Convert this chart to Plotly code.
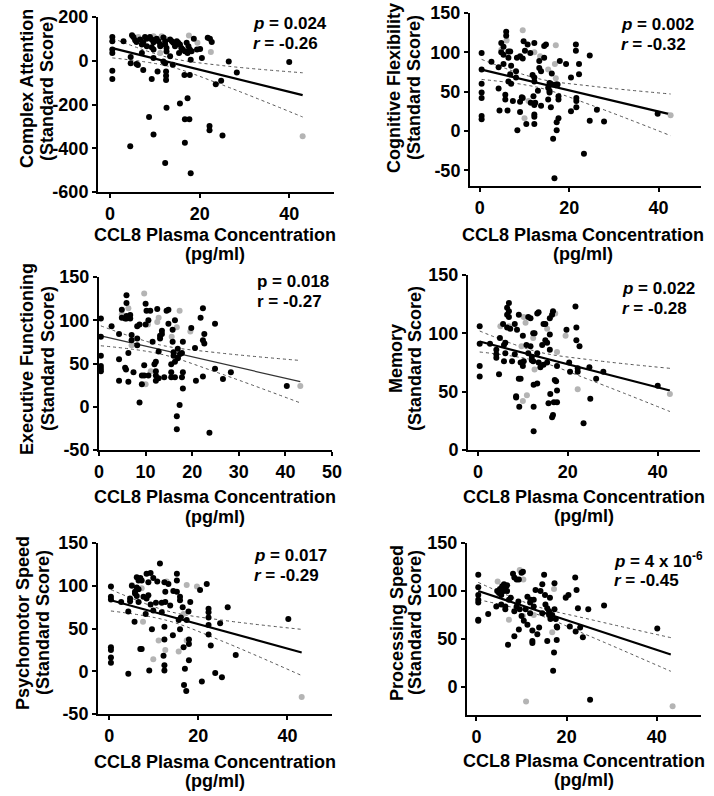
import plotly.graph_objects as go

# ---------------- data ----------------
# Complex Attention
ca_black = [(0.5,108),(0.5,89),(0.5,51),(0.5,35),(0.5,-46),(0.5,-83),(3.0,89),(4.9,117),(5.2,108),(5.6,94),(5.9,86),
 (6.7,97),(7.1,74),(7.4,85),(7.8,109),(8.2,100),(8.2,66),(8.9,109),(9.3,97),(9.7,85),(9.3,62),(9.7,51),
 (10.4,100),(10.8,89),(11.2,74),(11.2,66),(11.9,106),(12.3,89),(12.3,74),(12.6,58),(12.6,42),
 (13.4,97),(13.8,89),(14.1,82),(14.5,66),(14.9,89),(15.2,82),(15.6,74),(15.9,58),(16.2,51),(16.7,43),(15.4,35),
 (17.1,82),(17.5,66),(17.8,51),(18.2,43),(17.3,35),(18.7,100),(19.4,51),(20.1,54),(20.5,12),
 (21.8,105),(22.3,100),(22.7,86),(4.6,17),(4.6,-11),(5.9,-15),(6.2,-20),(7.4,-42),(7.1,35),
 (9.3,-83),(9.7,12),(10.6,-49),(11.9,-3),(12.3,-11),(12.5,-49),(12.5,-69),(12.5,-88),(12.6,-215),
 (13.4,20),(14.0,-18),(15.6,-195),(16.6,-65),(16.7,-268),(17.3,-172),(17.7,-268),(17.8,-65),(18.0,5),
 (16.7,-375),(18.0,-514),(12.3,-468),(8.7,-257),(9.7,-337),(4.5,-391),
 (22.2,-298),(22.2,-318),(25.1,-342),(24.8,-92),(23.6,-108),(26.5,-3),(28.3,-54),(40.0,-6)]
ca_gray = [(6.3,109),(9.7,112),(11.5,112),(12.3,100),(17.6,115),(19.5,82),(22.5,40),(11.2,35),(14.0,-20),(43.0,-345)]
ca_fit_x = [0.5, 13, 25, 43]
ca_fit_y = [58, -5, -66, -157]
ca_up = [103, 15, -22, -55]
ca_lo = [13, -25, -110, -257]

# Cognitive Flexibility
cf_black = [(0.4,99),(0.4,78),(0.4,60),(0.4,49),(0.4,42),(0.4,19),(0.4,15),
 (2.6,88),(4.2,81),(4.2,54),(4.4,26),(4.8,112),(4.8,100),(5.3,107),(5.3,97),(5.3,85),
 (5.7,46),(5.7,40),(5.9,126),(5.9,121),(6.2,26),(6.4,93),(6.4,101),(6.4,63),
 (6.8,101),(6.8,72),(7.0,83),(7.0,60),(7.4,38),(8.1,76),(8.1,68),(8.3,93),(8.4,1),
 (9.0,95),(9.0,37),(9.0,24),(9.4,43),(9.6,92),(9.6,42),(9.8,114),(10.1,102),(10.4,9),
 (10.7,110),(11.3,99),(11.4,36),(11.8,71),(12.0,44),
 (12.2,112),(12.2,68),(12.2,63),(12.2,33),(12.2,21),(12.2,18),(12.2,9),(12.4,36),
 (13.0,51),(13.3,89),(13.3,80),(13.7,76),(13.7,32),(14.4,108),(14.4,93),(14.8,110),
 (15.3,55),(15.3,40),(15.6,61),(15.6,51),(15.6,49),(15.9,30),(16.1,73),(16.1,59),
 (16.4,-10),(16.7,-60),(17.0,59),(17.0,58),(17.2,1),(17.2,11),(17.4,59),(17.6,44),(17.6,40),(17.6,16),
 (17.9,89),(19.3,85),(20.4,68),(20.4,25),(21.5,102),(21.5,110),(21.6,42),(21.6,38),(21.6,30),
 (22.2,85),(22.2,72),(23.3,-29),(24.6,13),(24.6,96),(26.2,27),(27.8,12),(39.8,22)]
cf_gray = [(9.6,128),(6.0,115),(10.0,16),(10.9,38),(12.2,100),(17.0,109),(16.8,85),(15.3,78),(17.0,67),(42.7,20),(4.8,103),(13.5,95)]
cf_fit_x = [0.4, 13, 25, 42.7]
cf_fit_y = [78, 61, 45, 21]
cf_up = [91, 66.6, 57, 47]
cf_lo = [65.5, 55.4, 32.7, -6]

# Executive Functioning
ef_black = [(0.4,102),(0.4,81),(0.4,59),(0.4,47),(0.4,44),(0.4,41),
 (2.7,93),(4.3,84),(4.3,55),(4.3,30),(4.9,112),(4.9,103),(5.6,102),(5.6,45),(5.8,43),
 (5.9,129),(5.9,120),(5.9,105),(5.9,102),(6.3,62),(6.3,29),(6.7,106),(6.7,102),
 (7.0,83),(7.0,77),(7.4,40),(8.2,93),(8.2,79),(8.2,71),(8.7,5),(8.7,95),
 (9.2,26),(9.2,36),(9.7,48),(9.7,36),(10.0,119),(10.0,95),(10.2,111),(10.6,100),(10.6,36),
 (11.0,111),(11.5,75),(11.9,49),(12.2,30),(12.2,36),(12.2,41),(12.2,52),(12.5,113),
 (12.8,64),(12.8,33),(13.1,82),(13.1,79),(13.5,88),(13.5,84),(14.0,34),(14.5,111),(14.9,112),(14.9,96),
 (15.5,49),(15.5,40),(15.5,34),(15.8,89),(15.8,75),(16.0,63),(16.0,59),(16.3,100),(16.3,52),(16.3,34),
 (16.7,-11),(16.7,-26),(16.9,67),(16.9,57),(16.9,56),(17.3,2),(17.4,61),(17.8,62),(17.8,34),
 (18.0,75),(18.0,40),(18.0,21),(19.8,91),(20.6,68),(20.8,30),(21.8,103),(22.3,114),(22.3,77),(22.3,35),
 (22.6,84),(22.6,73),(23.7,-30),(24.9,44),(24.9,96),(26.6,32),(28.3,40),(40.3,24)]
ef_gray = [(9.7,131),(6.3,114),(4.9,107),(12.8,103),(10.5,95),(12.5,98),(17.3,111),(16.7,92),(15.6,81),(19.6,87),(7.0,71),(10.0,26),(11.1,41),(43.2,24)]
ef_fit_x = [0.4, 13, 25, 43.2]
ef_fit_y = [82, 66.4, 51.5, 29]
ef_up = [93.5, 71.6, 62.7, 53.5]
ef_lo = [70.5, 61.2, 40.3, 4.5]

# Memory
me_black = [(0.4,106),(0.4,91),(0.4,72),(0.4,63),(2.7,91),(4.1,86),(4.1,82),(4.1,79),(4.7,65),(4.9,96),
 (5.6,108),(5.8,90),(5.8,76),(6.1,92),(6.1,83),(6.5,122),(6.5,116),(6.5,105),(6.9,126),(6.9,119),(6.9,114),
 (7.2,104),(7.6,76),(8.2,108),(8.2,82),(8.5,46),(8.5,45),(8.7,103),(9.1,116),(9.1,61),(9.2,37),
 (9.5,75),(9.5,61),(10.0,98),(10.0,72),(10.2,76),(10.8,90),(11.2,114),(11.2,83),(11.7,113),(11.7,89),
 (12.0,80),(12.0,77),(12.3,100),(12.3,76),(12.4,56),(12.4,37),(12.4,16),(12.6,100),
 (13.2,117),(13.2,83),(13.2,57),(13.5,118),(13.5,75),(13.9,71),(14.3,90),(14.6,108),(14.6,73),
 (15.0,108),(15.0,94),(15.4,92),(15.4,75),(15.7,40),(16.0,113),(16.0,99),(16.0,86),(16.1,48),
 (16.5,116),(16.5,28),(16.7,119),(16.7,30),(16.9,41),(17.1,60),(17.4,59),(17.6,72),(17.6,51),(17.6,41),
 (19.7,103),(20.3,75),(20.5,67),(21.7,123),(21.9,105),(21.9,94),(22.2,70),(22.2,67),(22.6,89),
 (23.5,23),(24.8,71),(25.0,44),(26.3,61),(27.9,67),(40.0,55)]
me_gray = [(6.9,106),(5.0,106),(10.2,114),(10.6,109),(10.9,47),(10.0,42),(12.3,96),(12.6,69),(17.2,117),(15.4,104),(19.5,98),(17.6,84),(22.2,52),(42.7,48),(9.7,89)]
me_fit_x = [0.4, 13, 25, 42.7]
me_fit_y = [93, 80.5, 68.6, 51]
me_up = [102, 84.5, 77.3, 70]
me_lo = [84, 76.5, 59.9, 33]

# Psychomotor Speed
ps_black = [(0.4,99),(0.4,87),(0.4,84),(0.4,28),(0.4,25),(0.4,16),(0.4,10),(2.7,81),(4.3,70),(4.3,-3),
 (4.7,85),(4.7,82),(5.1,100),(5.7,58),(5.8,93),(5.8,91),(6.2,110),(6.2,98),(6.2,88),
 (6.6,106),(6.6,96),(6.6,81),(7.0,109),(7.0,26),(7.3,106),(7.3,26),(7.7,87),(8.2,67),
 (8.4,114),(8.4,85),(8.8,104),(8.8,89),(9.0,1),(9.3,115),(9.3,78),(9.6,49),(9.9,109),(9.9,71),
 (10.5,80),(10.8,105),(11.4,126),(11.8,80),(11.8,69),(12.2,18),(12.4,104),(12.4,52),(12.4,37),(12.4,7),(12.4,1),
 (12.6,93),(12.6,81),(13.3,102),(13.7,77),(14.3,42),(14.4,94),(15.2,114),(15.2,106),(15.2,93),(15.6,60),
 (15.9,87),(15.9,83),(15.9,49),(16.1,63),(16.5,75),(16.7,28),(16.8,-16),(17.0,3),(17.3,-23),(17.4,60),
 (17.8,70),(17.9,37),(17.9,32),(17.9,13),(18.2,81),(20.4,95),(20.8,-12),(21.9,102),
 (22.3,73),(22.3,69),(22.3,63),(22.3,54),(22.3,43),(22.8,30),(23.8,-2),(24.9,56),(25.3,-7),(26.6,75),(28.4,19),(40.2,61)]
ps_gray = [(5.1,101),(7.3,97),(7.6,58),(9.9,14),(11.1,36),(12.6,25),(12.9,105),(17.4,101),(19.7,99),(15.6,23),(17.4,36),(16.7,67),(43.2,-30)]
ps_fit_x = [0.4, 13, 25, 43.2]
ps_fit_y = [83, 65, 48, 22]
ps_up = [95.5, 70.6, 60, 49]
ps_lo = [70.5, 59.4, 36, -5]

# Processing Speed
pr_black = [(0.4,117),(0.4,104),(0.4,96),(0.4,91),(0.4,88),(0.4,70),(0.4,69),(2.6,76),(4.4,84),(4.6,100),(5.0,98),
 (5.2,102),(5.5,96),(5.5,86),(5.7,105),(6.1,107),(6.1,100),(6.4,103),(6.4,84),(6.4,81),(6.8,106),(6.8,100),
 (7.0,44),(7.2,91),(7.6,93),(8.1,118),(8.4,114),(8.4,79),(8.4,53),(8.9,112),(8.9,84),(9.3,89),(9.4,112),(9.4,60),
 (9.6,81),(10.0,119),(10.0,74),(10.3,120),(10.5,69),(10.9,81),(11.3,94),(11.3,65),(11.9,88),(11.9,77),(12.0,91),
 (12.4,59),(12.4,48),(12.4,46),(12.7,91),(12.7,84),(13.1,101),(13.5,55),(13.9,62),(14.2,100),(14.6,107),(14.6,77),
 (15.0,117),(15.2,96),(15.3,86),(15.7,48),(15.7,82),(16.1,79),(16.1,75),(16.3,93),(16.4,71),(16.8,75),(17.0,17),
 (17.2,36),(17.3,108),(17.3,81),(17.6,71),(17.8,63),(17.8,49),(17.9,62),(19.8,93),(20.4,96),(20.7,63),
 (21.9,114),(22.0,58),(22.2,101),(22.5,82),(23.0,62),(23.6,52),(24.8,81),(25.2,-13),(28.3,85),(40.1,61)]
pr_gray = [(4.7,110),(9.6,122),(10.4,112),(7.2,70),(11.0,-15),(17.2,102),(16.8,57),(19.8,94),(43.5,-20),(10.3,74),(12.7,75)]
pr_fit_x = [0.4, 13, 25, 43.1]
pr_fit_y = [100, 80.5, 62, 34]
pr_up = [109, 84.5, 70.7, 51.5]
pr_lo = [91, 76.5, 53.3, 16.5]

titles = ["Complex Attention", "Cognitive Flexibility", "Executive Functioning",
          "Memory", "Psychomotor Speed", "Processing Speed"]
p_texts = ["<i>p</i> = 0.024", "<i>p</i> = 0.002", "p = 0.018", "<i>p</i> = 0.022", "<i>p</i> = 0.017",
           "<i>p</i> = 4 x 10<sup>-6</sup>"]
r_texts = ["<i>r</i> = -0.26", "<i>r</i> = -0.32", "r = -0.27", "<i>r</i> = -0.28", "<i>r</i> = -0.29", "<i>r</i> = -0.45"]
x_title = "CCL8 Plasma Concentration"
x_unit = "(pg/ml)"
y_unit = "(Standard Score)"
xticks = [[0, 20, 40], [0, 20, 40], [0, 10, 20, 30, 40, 50], [0, 20, 40], [0, 20, 40], [0, 20, 40]]
yticks = [[-600, -400, -200, 0, 200], [-50, 0, 50, 100, 150], [-50, 0, 50, 100, 150],
          [0, 50, 100, 150], [-50, 0, 50, 100, 150], [0, 50, 100, 150]]

panels = [
    dict(black=ca_black, gray=ca_gray, fx=ca_fit_x, fy=ca_fit_y, up=ca_up, lo=ca_lo),
    dict(black=cf_black, gray=cf_gray, fx=cf_fit_x, fy=cf_fit_y, up=cf_up, lo=cf_lo),
    dict(black=ef_black, gray=ef_gray, fx=ef_fit_x, fy=ef_fit_y, up=ef_up, lo=ef_lo),
    dict(black=me_black, gray=me_gray, fx=me_fit_x, fy=me_fit_y, up=me_up, lo=me_lo),
    dict(black=ps_black, gray=ps_gray, fx=ps_fit_x, fy=ps_fit_y, up=ps_up, lo=ps_lo),
    dict(black=pr_black, gray=pr_gray, fx=pr_fit_x, fy=pr_fit_y, up=pr_up, lo=pr_lo),
]

# ---------------- layout geometry ----------------
W, H = 714, 796
# pixel boxes: (left, right, top, bottom)
boxes = [(98, 334, 17, 192), (470, 701, 13, 186), (99, 332, 277, 450),
         (468, 700, 275, 450), (98, 332, 543, 714), (467, 701, 543, 715)]
xranges = [[-2.7, 50], [-2.2, 49.5], [0, 50], [-2.2, 49.4], [-2.5, 50], [-2.1, 49.8]]
yranges = [[-600, 200], [-70, 150], [-50, 150], [0, 150], [-50, 150], [-29, 150]]
ytitle_x = [(27, 47), (394, 414), (27, 48), (396, 415), (23, 43), (397, 415)]
ytitle_y = [89, 88, 359, 359, 623, 623]
xtitle_x = [215, 583, 215, 584, 215, 584]
xtitle_y = [(235, 254), (235, 254), (497, 517), (497, 516), (762, 781), (761, 780)]
stat_pos = [(251, 23), (619, 25), (255, 282), (620, 288), (252, 555), (612, 560)]

FONT = "Liberation Sans, Arial, sans-serif"
fig = go.Figure()
annotations = []
layout = dict(width=W, height=H, margin=dict(l=0, r=0, t=0, b=0, pad=0, autoexpand=False),
              paper_bgcolor="white", plot_bgcolor="white", showlegend=False,
              font=dict(family=FONT, color="black"))


def ann(text, x, y, size, angle=0, xanchor="center"):
    return dict(text="<b>" + text + "</b>", x=x / W, y=1 - y / H, xref="paper", yref="paper",
                textangle=angle, showarrow=False, xanchor=xanchor, yanchor="middle",
                font=dict(family=FONT, size=size, color="black"))


for i, p in enumerate(panels):
    n = "" if i == 0 else str(i + 1)
    xa, ya = "x" + n, "y" + n
    l, r, t, b = boxes[i]
    common = dict(showline=True, linecolor="black", linewidth=2, ticks="outside", ticklen=4,
                  tickwidth=2, tickcolor="black", showgrid=False, zeroline=False, automargin=False,
                  tickfont=dict(family=FONT, size=18, color="black", weight="bold"))
    layout["xaxis" + n] = dict(domain=[l / W, r / W], range=xranges[i], anchor=ya,
                               tickvals=xticks[i], ticktext=[str(v) for v in xticks[i]], **common)
    layout["yaxis" + n] = dict(domain=[1 - b / H, 1 - t / H], range=yranges[i], anchor=xa,
                               tickvals=yticks[i], ticktext=[str(v) for v in yticks[i]], **common)
    thin = (i == 2)
    for band in (p["up"], p["lo"]):
        fig.add_trace(go.Scatter(x=p["fx"], y=band, mode="lines", xaxis=xa, yaxis=ya,
                                 line=dict(color="#555555", width=1, dash="dot", shape="spline"),
                                 hoverinfo="skip"))
    fig.add_trace(go.Scatter(x=p["fx"], y=p["fy"], mode="lines", xaxis=xa, yaxis=ya,
                             line=dict(color="#333333" if thin else "black", width=1.2 if thin else 2.2)))
    fig.add_trace(go.Scatter(x=[q[0] for q in p["gray"]], y=[q[1] for q in p["gray"]], mode="markers",
                             xaxis=xa, yaxis=ya, marker=dict(color="#b4b4b4", size=6)))
    fig.add_trace(go.Scatter(x=[q[0] for q in p["black"]], y=[q[1] for q in p["black"]], mode="markers",
                             xaxis=xa, yaxis=ya, marker=dict(color="black", size=6)))

    annotations.append(ann(titles[i], ytitle_x[i][0], ytitle_y[i], 18, angle=-90))
    annotations.append(ann(y_unit, ytitle_x[i][1], ytitle_y[i], 18, angle=-90))
    annotations.append(ann(x_title, xtitle_x[i], xtitle_y[i][0], 18))
    annotations.append(ann(x_unit, xtitle_x[i], xtitle_y[i][1], 18))
    sx, sy = stat_pos[i]
    annotations.append(ann(p_texts[i], sx, sy, 17, xanchor="left"))
    annotations.append(ann(r_texts[i], sx, sy + 20, 17, xanchor="left"))

layout["annotations"] = annotations
fig.update_layout(**layout)
fig.write_html("out.html", config={"displayModeBar": False},
               post_script="document.body.style.margin='0';")
